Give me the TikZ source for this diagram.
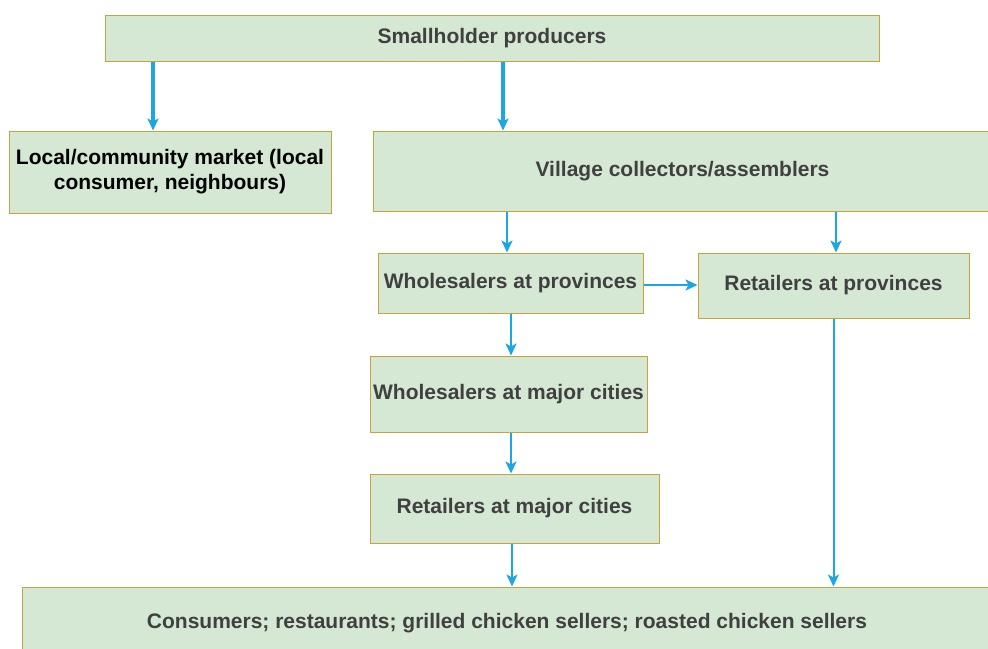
\documentclass[tikz,border=0pt]{standalone}
\usepackage{fontspec}
\setmainfont{Liberation Sans}
\usetikzlibrary{arrows.meta, positioning, calc}
\definecolor{chgreen}{HTML}{D5E8D4}
\definecolor{chgold}{HTML}{C9A23C}
\definecolor{chblue}{HTML}{1AA7E2}
\definecolor{chtext}{HTML}{404040}

\begin{document}
\begin{tikzpicture}[
  x=1pt, y=-1pt,
  every node/.style={font=\fontsize{21}{25}\selectfont\bfseries},
  box/.style={rectangle, draw=chgold, fill=chgreen, line width=1pt, inner sep=2pt, align=center, text=chtext},
  arrow/.style={-{Stealth[length=12pt, width=11pt, inset=3pt]}, draw=chblue, line width=#1},
]
\fill[white] (0,0) rectangle (988,648);
\useasboundingbox (0,0) rectangle (988,648);

\node[box, minimum width=774, minimum height=46] (small) at (492,38) {Smallholder producers};
\node[box, text=black, minimum width=322, minimum height=82] (local) at (170,172) {Local/community market (local\\consumer, neighbours)};
\node[box, minimum width=619, minimum height=80] (village) at (682.5,171) {Village collectors/assemblers};
\node[box, minimum width=265, minimum height=60] (wprov) at (510.5,283) {Wholesalers at provinces};
\node[box, minimum width=271, minimum height=65] (rprov) at (833.5,285.5) {Retailers at provinces};
\node[box, minimum width=277, minimum height=76] (wmajor) at (508.5,394) {Wholesalers at major cities};
\node[box, minimum width=289, minimum height=69] (rmajor) at (514.5,508.5) {Retailers at major cities};
\node[box, minimum width=970, minimum height=73] (cons) at (507,623.5) {Consumers; restaurants; grilled chicken sellers; roasted chicken sellers};

% Producers split
\coordinate (localin) at ([xshift=-17]local.north);
\coordinate (villagein) at ([xshift=-179.5]village.north);
\draw[arrow=3.5pt] (small.south -| localin) -- (localin);
\draw[arrow=3.5pt] (small.south -| villagein) -- (villagein);

% Collectors to provinces
\coordinate (wprovin) at ([xshift=-3.5]wprov.north);
\coordinate (rprovin) at ([xshift=2.5]rprov.north);
\draw[arrow=2pt] (village.south -| wprovin) -- (wprovin);
\draw[arrow=2pt] (village.south -| rprovin) -- (rprovin);
\draw[arrow=2.5pt] ([yshift=-2]wprov.east) -- ([yshift=-2]wprov.east -| rprov.west);

% Down to the cities
\draw[arrow=2pt] (wprov.south -| wmajor.north) ++(2.5,0) coordinate (wm) -- (wm |- wmajor.north);
\draw[arrow=2pt] (wmajor.south) ++(2.5,0) coordinate (rm) -- (rm |- rmajor.north);
\draw[arrow=2pt] ([xshift=-2.5]rmajor.south) coordinate (cs) -- (cs |- cons.north);
\draw[arrow=2pt] (rprov.south) -- (rprov.south |- cons.north);
\end{tikzpicture}
\end{document}
